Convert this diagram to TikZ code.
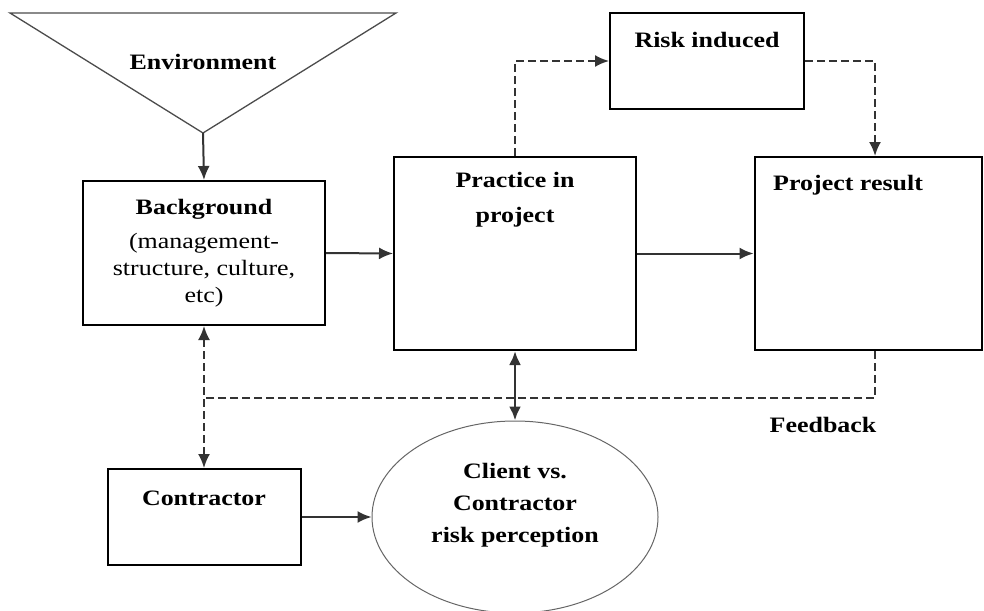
\documentclass[tikz,border=0pt]{standalone}
\usepackage{fontspec}
\setmainfont{Liberation Serif}[FakeStretch=1.18]
\usetikzlibrary{arrows.meta,shapes.geometric}

\begin{document}
\begin{tikzpicture}[x=1pt,y=-1pt]
\tikzstyle{every node}=[font=\fontsize{22}{27}\selectfont, inner sep=0pt]
\tikzstyle{box}=[draw, line width=2pt, fill=white]
\tikzstyle{link}=[line width=2pt, draw=black!80, >={Latex[length=14pt,width=12pt]}, ->]
\tikzstyle{fb}=[link, dash pattern=on 8pt off 4pt]
\useasboundingbox (0,0) rectangle (984,610);

% environment
\coordinate (envtip) at (203,133);
\draw[line width=1.3pt, draw=black!70, fill=white] (10,13) -- (396,13) -- (envtip) -- cycle;
\node at (203,62) (env) {\bfseries Environment};

% boxes
\node at (204,253) [box, minimum width=242, minimum height=144] (bg) {};
\node at (515,253.5) [box, minimum width=242, minimum height=193] (prac) {};
\node at (707,61) [box, minimum width=194, minimum height=96] (risk) {};
\node at (868,253.5) [box, minimum width=227, minimum height=193] (proj) {};
\node at (204,517) [box, minimum width=193, minimum height=96] (con) {};
\node at (515,517) [draw, ellipse, line width=1pt, draw=black!60, fill=white,
  minimum width=286, minimum height=192] (cli) {};
\coordinate (fbk) at (204,398);

% texts
\node at (204,253) [align=center] (bgtext)
  {\bfseries Background\\[7pt](management-\\structure, culture,\\etc)};
\node at (515,200) [align=center] (practext) {\bfseries Practice in\\[8pt]\bfseries project};
\node at (707,40) (risktext) {\bfseries Risk induced};
\node at (773,185) [anchor=west] (projtext) {\bfseries Project result};
\node at (204,498) (context) {\bfseries Contractor};
\node at (515,505) [align=center] (clitext)
  {\bfseries Client vs.\\[5pt]\bfseries Contractor\\[5pt]\bfseries risk perception};
\node at (823,425) (fbtext) {\bfseries Feedback};

% connectors
\draw[link] (envtip) -- (bg.north);
\draw[link] (bg.east) -- (prac.west);
\draw[link] (prac.east) -- (proj.west);
\draw[link] (con.east) -- (cli.west);
\draw[link, <->, line width=2.8pt] (prac.south) -- (cli.north);
\draw[fb] (prac.north) |- (risk.west);
\draw[fb] (risk.east) -| ([xshift=7pt]proj.north);
\draw[fb, -] ([xshift=7pt]proj.south) |- (fbk);
\draw[fb, <->] (bg.south) -- (con.north);
\end{tikzpicture}
\end{document}
